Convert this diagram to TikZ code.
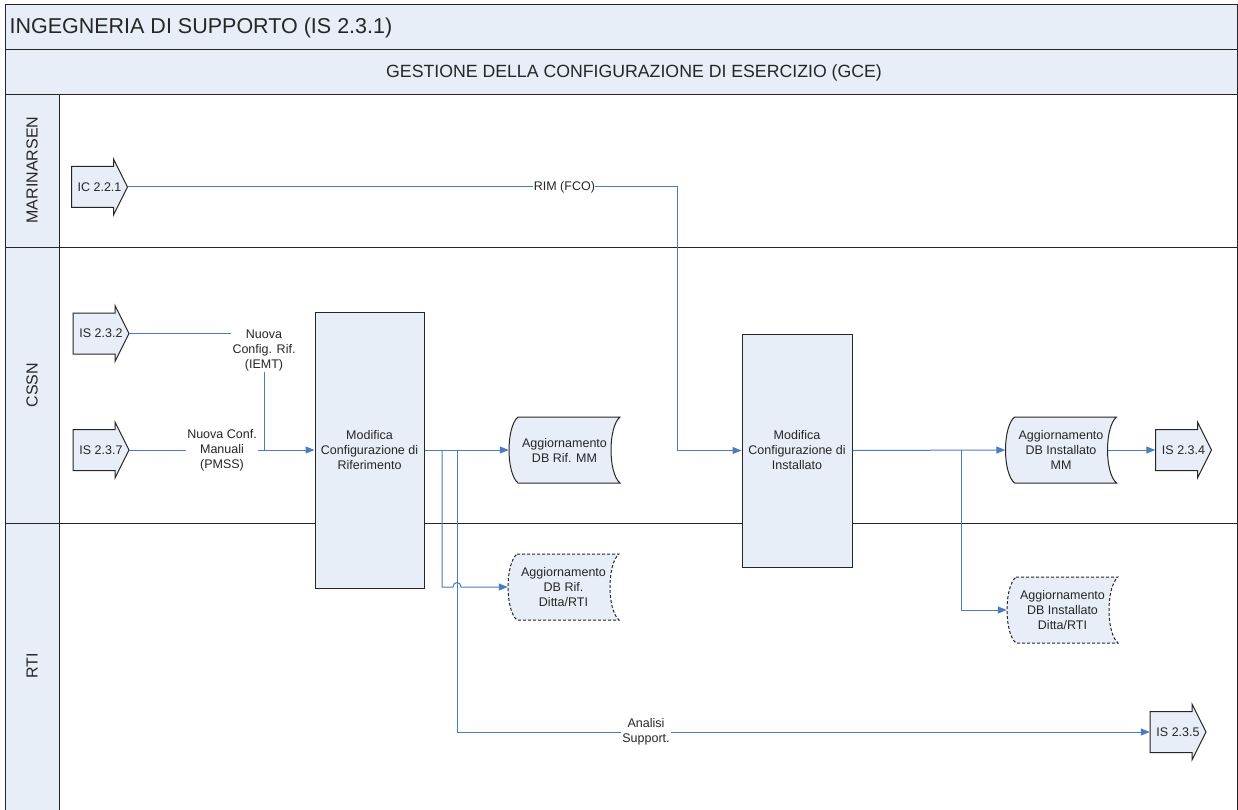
\documentclass[tikz,border=0pt]{standalone}
\usepackage{fontspec}
\setmainfont{Liberation Sans}
\usetikzlibrary{arrows.meta,calc,positioning}

\definecolor{paleblue}{HTML}{E8EEF7}
\definecolor{flowblue}{HTML}{4A7EBB}
\definecolor{inkgray}{HTML}{262626}

\newcommand{\lbl}{\fontsize{12.5}{15}\selectfont}

\tikzset{
  shp/.style={draw=inkgray, fill=paleblue, line width=1pt},
  procbox/.style={shp, font=\lbl, align=center, inner sep=0pt},
  pgnode/.style={font=\lbl, minimum width=56pt, minimum height=41pt, inner sep=0pt},
  dbnode/.style={font=\lbl, align=center, minimum width=111pt, minimum height=66pt, inner sep=0pt},
  midlbl/.style={font=\lbl, align=center, fill=white, inner sep=1.5pt},
  lanelbl/.style={font=\fontsize{16}{19}\selectfont, rotate=90},
  flow/.style={draw=flowblue, line width=1pt, -{Triangle[length=9pt,width=7pt]}},
  link/.style={draw=flowblue, line width=1pt},
  lane/.style={draw=inkgray, line width=1pt},
  dashline/.style={dash pattern=on 3pt off 2pt},
}

% off-page arrow: name, centre, text
\newcommand{\pagearrow}[3]{%
  \filldraw[shp] (#2) ++(-28,-20.5) -- ++(42,0) -- ++(0,-7.5) -- ++(14,28)
    -- ++(-14,28) -- ++(0,-7.5) -- ++(-42,0) -- cycle;
  \node[pgnode] (#1) at (#2) {#3};
}

% stored data: name, centre, extra style, text
\newcommand{\dbstore}[4]{%
  \filldraw[shp,#3] (#2) ++(-46.5,-33) -- ++(102,0)
    .. controls +(-12,10) and +(-12,-10) .. ++(0,66) -- ++(-102,0)
    .. controls +(-12,-10) and +(-12,10) .. ++(0,-66) -- cycle;
  \node[dbnode] (#1) at (#2) {#4};
}

\begin{document}
\begin{tikzpicture}[x=1pt, y=-1pt, every node/.append style={text=inkgray}]
\useasboundingbox (0,0) rectangle (1238,810);
\clip (0,0) rectangle (1238,810);

% pool and lanes
\fill[paleblue] (5,5) rectangle (1237,95);
\fill[paleblue] (5,95) rectangle (59,820);
\draw[lane] (5,5) rectangle (1237,820);
\draw[lane] (5,50) -- (1237,50);
\draw[lane] (5,95) -- (1237,95);
\draw[lane] (59,95) -- (59,820);
\draw[lane] (5,247) -- (1237,247);
\draw[lane] (5,523) -- (1237,523);

\node[anchor=west, font=\fontsize{21.5}{24}\selectfont] (title) at (6,28) {INGEGNERIA DI SUPPORTO (IS 2.3.1)};
\node[font=\fontsize{17.7}{20}\selectfont] (gce) at (634,73) {GESTIONE DELLA CONFIGURAZIONE DI ESERCIZIO (GCE)};
\node[lanelbl] (marinarsen) at (32,170) {MARINARSEN};
\node[lanelbl] (cssn) at (32,385) {CSSN};
\node[lanelbl] (rti) at (32,666) {RTI};

% off-page references
\pagearrow{ic221}{99.5,187}{IC 2.2.1}
\pagearrow{is232}{101,333.5}{IS 2.3.2}
\pagearrow{is237}{101,450}{IS 2.3.7}
\pagearrow{is234}{1183.5,450}{IS 2.3.4}
\pagearrow{is235}{1178,732}{IS 2.3.5}

% processes
\node[procbox, minimum width=109pt, minimum height=276pt] (rif) at (369.5,450) {Modifica\\Configurazione di\\Riferimento};
\node[procbox, minimum width=110pt, minimum height=233pt] (inst) at (797,450.5) {Modifica\\Configurazione di\\Installato};

% data stores
\dbstore{dbrifmm}{564.5,450}{}{Aggiornamento\\DB Rif. MM}
\dbstore{dbrifrti}{563.5,587}{dashline}{Aggiornamento\\DB Rif.\\Ditta/RTI}
\dbstore{dbinstmm}{1061,450}{}{Aggiornamento\\DB Installato\\MM}
\dbstore{dbinstrti}{1062.5,610}{dashline}{Aggiornamento\\DB Installato\\Ditta/RTI}

% flows
\coordinate (rimx) at (677,187);
\draw[flow] (ic221.east) -- node[midlbl, pos=.795, inner sep=0.5pt] (rim) {RIM (FCO)} (rimx) |- (inst.west);

\coordinate (rifin) at (264,450);
\draw[link] (is232.east) -| (rifin);
\draw[flow] (is237.east) -- (rif.west);
\node[midlbl] (iemt) at (264,350) {Nuova\\Config. Rif.\\(IEMT)};
\node[midlbl] (pmss) at (222,450) {Nuova Conf.\\Manuali\\(PMSS)};

\coordinate (brA) at (442,450);
\coordinate (brB) at (457,450);
\coordinate (hop) at (brB|-dbrifrti.west);
\draw[flow] (rif.east) -- (dbrifmm.west);
\draw[flow] (brA) |- ($(hop)+(-4,0)$) .. controls +(0,-6) and +(0,-6) .. ($(hop)+(4,0)$) -- (dbrifrti.west);
\draw[flow] (brB) |- (is235.west);
\node[midlbl] (analisi) at (646,732) {Analisi\\Support.};

\coordinate (brC) at (961,450);
\draw[flow] (inst.east) -- (dbinstmm.west);
\draw[flow] (brC) |- (dbinstrti.west);
\draw[flow] ($(dbinstmm.east)+(-9,0)$) -- (is234.west);
\end{tikzpicture}
\end{document}
